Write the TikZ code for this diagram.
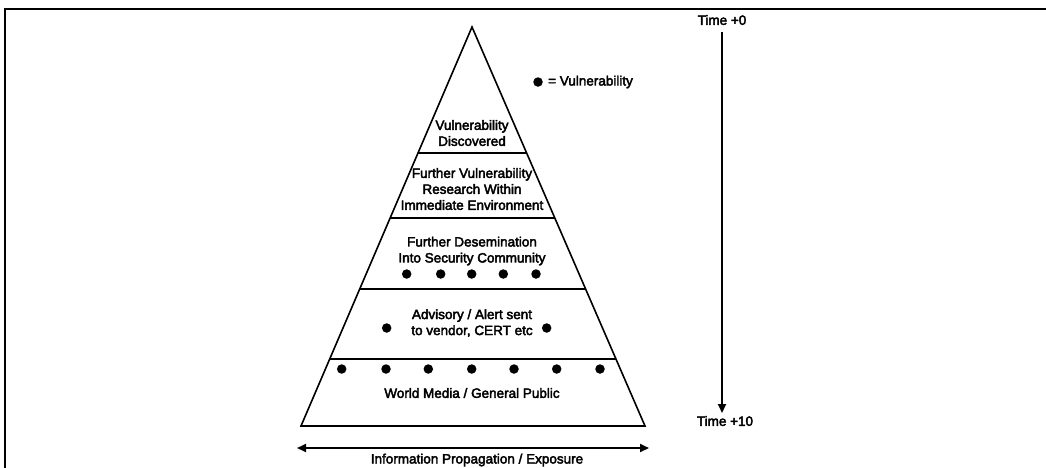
\documentclass[tikz,border=0pt]{standalone}
\usepackage{fontspec}
\setmainfont{Liberation Sans}
\newfontfamily\lblfont{Liberation Sans}[RawFeature={embolden=3}]
\usetikzlibrary{arrows.meta,calc}
\begin{document}
\begin{tikzpicture}[x=1pt,y=-1pt,
  lbl/.style={font=\lblfont\fontsize{13.5}{16}\selectfont, align=center, inner sep=0pt},
  vdot/.style={circle, fill=black, minimum size=9.5pt, inner sep=0pt},
  edge/.style={line width=1.6pt},
  frame/.style={line width=1.8pt},
  tipend/.style={-{Triangle[length=9pt,width=8pt]}},
  tipboth/.style={{Triangle[length=9pt,width=8pt]}-{Triangle[length=9pt,width=8pt]}}]
\useasboundingbox (0,0) rectangle (1046,467);

% frame around the figure
\draw[frame] (5,480) -- (5,9) -- (1060,9);

% pyramid outline
\coordinate (apex) at (472,27);
\coordinate (bl) at (301,426);
\coordinate (br) at (645,426);
\draw[edge, line join=miter] (apex) -- (bl) -- (br) -- cycle;

% layer boundaries
\foreach \n/\h in {1/126, 2/191, 3/262, 4/332} {
  \coordinate (L\n) at ($(apex)!{\h/399}!(bl)$);
  \coordinate (R\n) at ($(apex)!{\h/399}!(br)$);
  \draw[edge] (L\n) -- (R\n);
}

% layer texts
\node[lbl] (t1) at (472,133) {Vulnerability\\Discovered};
\node[lbl] (t2) at (472,189) {Further Vulnerability\\Research Within\\Immediate Environment};
\node[lbl] (t3) at (472,251) {Further Desemination\\Into Security Community};
\node[lbl] (t4) at (472,323) {Advisory / Alert sent\\to vendor, CERT etc};
\node[lbl] (t5) at (472,393) {World Media / General Public};

% vulnerabilities in each layer
\foreach \x [count=\i] in {406.7, 440.7, 471.7, 503.3, 536}
  \node[vdot] (d3\i) at (\x,274) {};
\node[vdot] (d41) at (386.7,328) {};
\node[vdot] (d42) at (546.7,328) {};
\foreach \x [count=\i] in {341.7, 386, 428.3, 471.7, 514, 556.7, 600}
  \node[vdot] (d5\i) at (\x,369) {};

% legend
\node[vdot] (key) at (538,82) {};
\node[lbl, anchor=west] (keytext) at (548,82) {= Vulnerability};

% time axis
\node[lbl] (time0) at (722,20) {Time +0};
\node[lbl] (time10) at (725,421) {Time +10};
\coordinate (tstart) at (722,32);
\coordinate (tend) at (722,413);
\draw[edge, line width=2pt, tipend] (tstart) -- (tend);

% propagation axis
\coordinate (pl) at (297,448);
\coordinate (pr) at (649,448);
\draw[edge, line width=1.8pt, tipboth] (pl) -- (pr);
\node[lbl] (prop) at (477,460) {Information Propagation / Exposure};
\end{tikzpicture}
\end{document}
